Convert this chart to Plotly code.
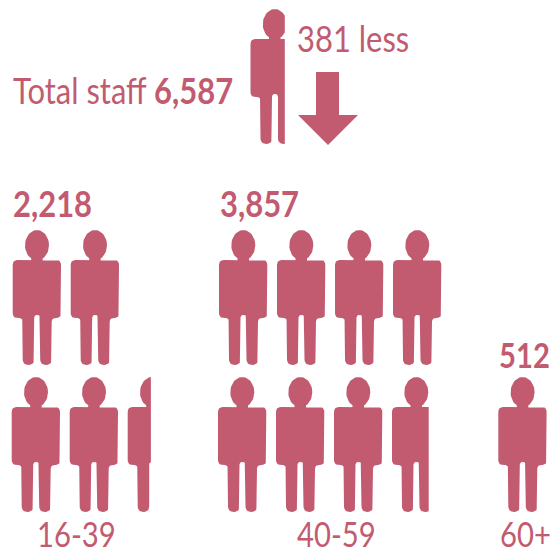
import math
import plotly.graph_objects as go

# ---- data ----
age_groups = ["16-39", "40-59", "60+"]
staff_counts = ["2,218", "3,857", "512"]
icons_drawn = [4.48, 7.76, 1.0]       # people shown per group, last one may be partial
top_row_capacity = [2, 4, 0]
total_staff = "6,587"
change_label = "381 less"
change_icons = 0.71

COLOR = "#C25B70"
W, H = 553, 549
FONT = "Lato"
TEXT_SQUEEZE = 0.86


def rounded(points, n=6):
    """Round every corner of a polygon; each point is (x, y, radius)."""
    out = []
    m = len(points)
    for i in range(m):
        (px, py, _), (cx, cy, r), (nx, ny, _) = points[i - 1], points[i], points[(i + 1) % m]
        d1 = math.hypot(px - cx, py - cy)
        d2 = math.hypot(nx - cx, ny - cy)
        rr = min(r, d1 / 2, d2 / 2)
        a = (cx + (px - cx) * rr / d1, cy + (py - cy) * rr / d1)
        b = (cx + (nx - cx) * rr / d2, cy + (ny - cy) * rr / d2)
        for k in range(n + 1):
            t = k / n
            out.append(((1 - t) ** 2 * a[0] + 2 * t * (1 - t) * cx + t * t * b[0],
                        (1 - t) ** 2 * a[1] + 2 * t * (1 - t) * cy + t * t * b[1]))
    return out


def person_parts():
    head = [(24.3 + 12 * math.cos(a * math.pi / 24), 15.2 + 15.2 * math.sin(a * math.pi / 24))
            for a in range(48)]
    neck = [(18.5, 24), (30, 24), (30, 32), (18.5, 32)]
    body = rounded([(0, 30, 5), (48.3, 30, 5), (48.3, 88, 6), (39, 88, 4), (39, 135, 7.5),
                    (27.5, 135, 7.5), (27.5, 85, 3), (21.5, 85, 3), (21.5, 135, 7.5), (10, 135, 7.5),
                    (10, 88, 4), (0, 88, 6)])
    return [head, neck, body]


def clip_right(poly, xmax):
    out = []
    for i, cur in enumerate(poly):
        prev = poly[i - 1]
        cin, pin = cur[0] <= xmax, prev[0] <= xmax
        if cin != pin:
            t = (xmax - prev[0]) / (cur[0] - prev[0])
            out.append((xmax, prev[1] + t * (cur[1] - prev[1])))
        if cin:
            out.append(cur)
    return out


def person_trace(x0, y0, fraction=1.0):
    xs, ys = [], []
    for part in person_parts():
        p = clip_right(part, 48.3 * fraction)
        if not p:
            continue
        xs += [x0 + q[0] for q in p] + [x0 + p[0][0], None]
        ys += [y0 + q[1] for q in p] + [y0 + p[0][1], None]
    return go.Scatter(x=xs, y=ys, mode="lines", fill="toself", fillcolor=COLOR,
                      line=dict(width=0), hoverinfo="skip", showlegend=False)


fig = go.Figure()

PITCH = 58
ROW1_Y, ROW2_Y = 230, 377
group_x = [11.7, 218, 498.3]
for gx, n, cap in zip(group_x, icons_drawn, top_row_capacity):
    i = 0
    remaining = n
    while remaining > 0.001:
        frac = min(1.0, remaining)
        if i < cap:
            fig.add_trace(person_trace(gx + 1 + i * PITCH, ROW1_Y, frac))
        else:
            fig.add_trace(person_trace(gx + (i - cap) * PITCH, ROW2_Y, frac))
        remaining -= frac
        i += 1

fig.add_trace(person_trace(250.5, 9, change_icons))

# down arrow
fig.add_trace(go.Scatter(
    x=[316, 339, 339, 358, 328, 298, 316, 316],
    y=[72, 72, 115, 115, 145, 115, 115, 72],
    mode="lines", fill="toself", fillcolor=COLOR, line=dict(width=0),
    hoverinfo="skip", showlegend=False))


def label(text, x, y_base, size):
    y = min(y_base, H)
    fig.add_annotation(x=x, y=y, yshift=y - y_base, text=text, xref="x", yref="y", showarrow=False,
                       xanchor="left", yanchor="bottom", borderpad=0, borderwidth=0,
                       font=dict(family=FONT, size=size, color=COLOR), align="left")


BIG = 36
label(f"Total staff <b>{total_staff}</b>", 13, 112, BIG)
label(change_label, 297, 60, BIG)
for text, x, base, size in zip(staff_counts, [13, 220, 499], [225, 225, 375], [BIG, BIG, 34]):
    label(f"<b>{text}</b>", x, base, size)
for text, x, base in zip(age_groups, [37, 297, 500], [554, 554, 554]):
    label(text, x, base, 34)

fig.update_layout(
    width=W, height=H, margin=dict(l=0, r=0, t=0, b=0),
    paper_bgcolor="white", plot_bgcolor="white", showlegend=False,
    xaxis=dict(range=[0, W], visible=False, fixedrange=True),
    yaxis=dict(range=[H, 0], visible=False, fixedrange=True),
)

# The page has no condensed humanist face, so narrow the real text elements.
post = """
document.body.style.margin = '0';
document.querySelectorAll('.annotation-text').forEach(function (t) {
  var b = t.getBBox();
  t.setAttribute('transform',
    'translate(' + b.x + ',0) scale(%s,1) translate(' + (-b.x) + ',0)');
});
""" % TEXT_SQUEEZE
fig.write_html("out.html", config=dict(displayModeBar=False), post_script=post)
